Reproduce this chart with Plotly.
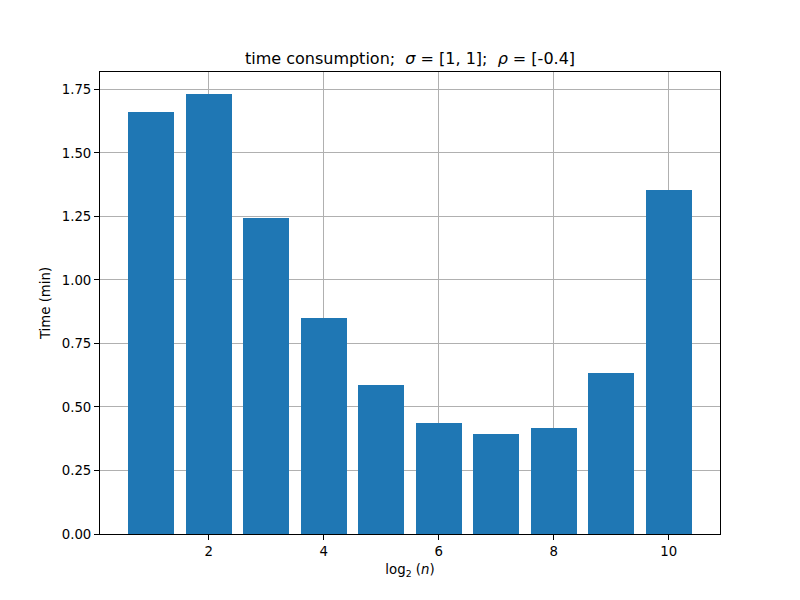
import plotly.graph_objects as go

log2_n = [1, 2, 3, 4, 5, 6, 7, 8, 9, 10]
time_min = [1.661, 1.732, 1.244, 0.850, 0.586, 0.437, 0.394, 0.417, 0.634, 1.354]
x_ticks = [2, 4, 6, 8, 10]
y_ticks = [0.0, 0.25, 0.5, 0.75, 1.0, 1.25, 1.5, 1.75]

fig = go.Figure(go.Bar(x=log2_n, y=time_min, width=0.8, marker=dict(color="#1f77b4", line=dict(width=0))))

font = dict(family="DejaVu Sans", size=13.3, color="black")
fig.update_layout(
    width=800, height=600,
    margin=dict(l=100, r=80, t=72, b=66),
    paper_bgcolor="white", plot_bgcolor="white",
    font=font,
    title=dict(text="time consumption;  <i>σ</i> = [1, 1];  <i>ρ</i> = [-0.4]",
               x=0.5125, xanchor="center", y=1 - 58/600, yanchor="middle",
               font=dict(family="DejaVu Sans", size=16, color="black")),
    showlegend=False,
    bargap=0,
)
fig.update_xaxes(
    range=[0.11, 10.89], tickvals=x_ticks, ticktext=[str(v) for v in x_ticks],
    showgrid=True, gridcolor="#b0b0b0", gridwidth=1,
    showline=True, linecolor="black", linewidth=1, mirror=True,
    ticks="outside", ticklen=5, tickcolor="black", zeroline=False,
    layer="above traces",
    title=dict(text="log<sub>2</sub> (<i>n</i>)", standoff=6, font=font),
)
fig.update_yaxes(
    range=[0, 1.8186], tickvals=y_ticks, ticktext=[f"{v:.2f}" for v in y_ticks],
    showgrid=True, gridcolor="#b0b0b0", gridwidth=1,
    showline=True, linecolor="black", linewidth=1, mirror=True,
    ticks="outside", ticklen=5, tickcolor="black", zeroline=False,
    layer="above traces",
    title=dict(text="Time (min)", standoff=8, font=font),
)
fig.write_html("out.html")
